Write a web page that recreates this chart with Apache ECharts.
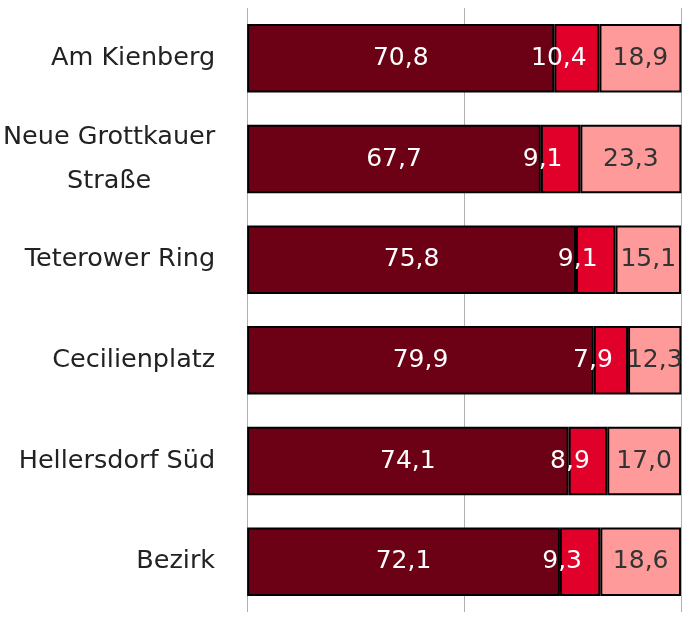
<!DOCTYPE html>
<html>
<head>
    <meta charset="utf-8">
    <title>Stacked bars</title>
    <script src="https://cdn.jsdelivr.net/npm/echarts@6.0.0/dist/echarts.min.js"></script>
    <style>
        html, body { margin: 0; padding: 0; background: #fff; }
        #chart { width: 696px; height: 617px; }
    </style>
</head>
<body>
<div id="chart"></div>
<script>
    // categories, top to bottom
    var categories = ['Am Kienberg', 'Neue Grottkauer\nStraße', 'Teterower Ring', 'Cecilienplatz', 'Hellersdorf Süd', 'Bezirk'];
    var partA = [70.8, 67.7, 75.8, 79.9, 74.1, 72.1];
    var partB = [10.4, 9.1, 9.1, 7.9, 8.9, 9.3];
    var partC = [18.9, 23.3, 15.1, 12.3, 17.0, 18.6];

    var fontName = '"DejaVu Sans", sans-serif';

    function fmt(p) {
        return p.value.toFixed(1).replace('.', ',');
    }

    function makeSeries(name, data, color, labelColor, offset) {
        return {
            name: name,
            type: 'bar',
            stack: 'all',
            data: data,
            barWidth: '68%',
            itemStyle: { color: color, borderColor: '#000', borderWidth: 2 },
            label: {
                show: true,
                position: 'inside',
                offset: offset,
                color: labelColor,
                fontSize: 25,
                fontFamily: fontName,
                formatter: fmt
            }
        };
    }

    var chart = echarts.init(document.getElementById('chart'));
    chart.setOption({
        animation: false,
        grid: { left: 244, right: 15, top: 8, bottom: 5, containLabel: false },
        xAxis: {
            type: 'value',
            min: 0,
            max: 100,
            interval: 50,
            axisLabel: { show: false },
            axisLine: { show: false },
            axisTick: { show: false },
            splitLine: { show: true, lineStyle: { color: '#b0b0b0', width: 1 } }
        },
        yAxis: {
            type: 'category',
            inverse: true,
            data: categories,
            axisLine: { show: false },
            axisTick: { show: false },
            axisLabel: {
                margin: 32,
                color: '#222',
                fontSize: 25.5,
                fontFamily: fontName,
                lineHeight: 44,
                formatter: function (v) {
                    if (v.indexOf('\n') >= 0) {
                        return v.split('\n').map(function (s) { return '{c|' + s + '}'; }).join('\n');
                    }
                    return v;
                },
                rich: {
                    c: { width: 212, align: 'center', fontSize: 25.5, fontFamily: fontName, color: '#222', lineHeight: 44 }
                }
            }
        },
        series: [
            makeSeries('A', partA, '#6c0014', '#fff', [0, 0]),
            makeSeries('B', partB, '#e1002a', '#fff', [-18, 0]),
            makeSeries('C', partC, '#ff9a9a', '#333', [0, 0])
        ]
    });
</script>
</body>
</html>
